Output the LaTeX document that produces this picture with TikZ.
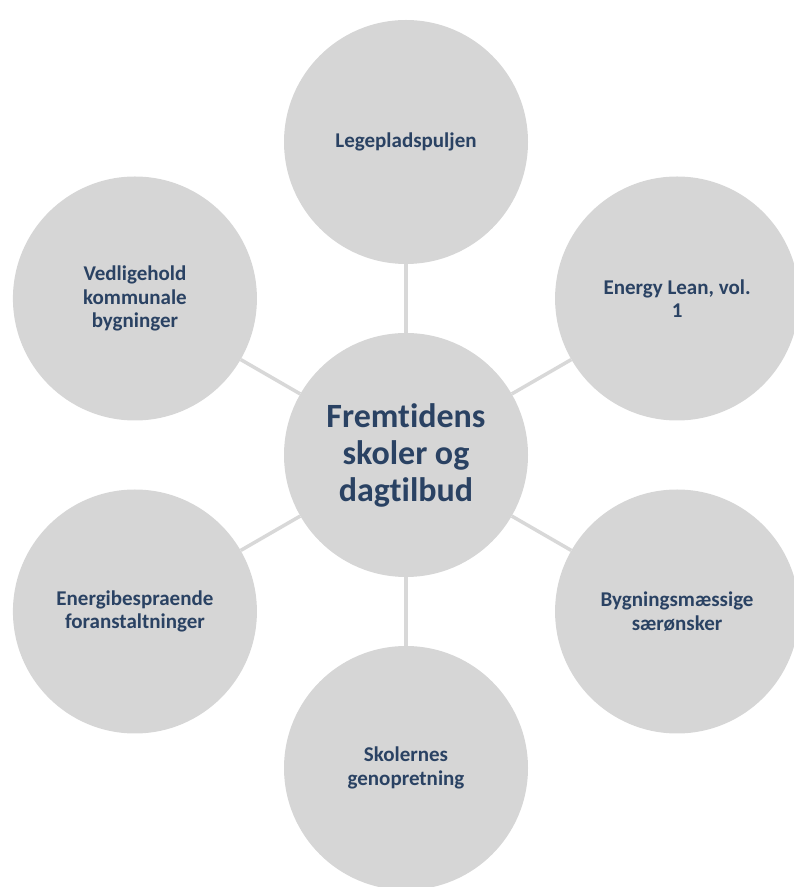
\documentclass[tikz,border=0pt]{standalone}
\usepackage{fontspec}
\setmainfont{Carlito}[Ligatures=NoCommon]
\usetikzlibrary{calc, backgrounds}
\definecolor{FSgrey}{HTML}{D6D6D6}
\definecolor{FSspoke}{HTML}{D8D8D8}
\definecolor{FSink}{HTML}{2A4263}
\tikzset{
  fscirc/.style={circle, fill=FSgrey, text=FSink, align=center, inner sep=0pt,
    minimum size=244pt, font=\fontsize{21}{23.5}\selectfont\bfseries},
  fshub/.style={fscirc, font=\fontsize{34}{37}\selectfont\bfseries},
  fsspoke/.style={line width=3.5pt, draw=FSspoke},
}
\begin{document}
\begin{tikzpicture}[x=1pt, y=1pt]
        \useasboundingbox (0,0) rectangle (794,887);
        \node[fshub] (hub) at (406,432) {Fremtidens\\skoler og\\dagtilbud};
        \node[fscirc] (play) at ($(hub)+(90:313)$) {Legepladspuljen};
        \node[fscirc] (lean) at ($(hub)+(30:313)$) {Energy Lean, vol.\\1};
        \node[fscirc] (wish) at ($(hub)+(-30:313)$) {Bygningsmæssige\\særønsker};
        \node[fscirc] (repair) at ($(hub)+(-90:313)$) {Skolernes\\genopretning};
        \node[fscirc] (save) at ($(hub)+(210:313)$) {Energibespraende\\foranstaltninger};
        \node[fscirc] (maint) at ($(hub)+(150:313)$) {Vedligehold\\kommunale\\bygninger};
        \begin{scope}[on background layer]
          \foreach \outer in {play, lean, wish, repair, save, maint}
            \draw[fsspoke] (hub) -- (\outer);
        \end{scope}
      \end{tikzpicture}
\end{document}
